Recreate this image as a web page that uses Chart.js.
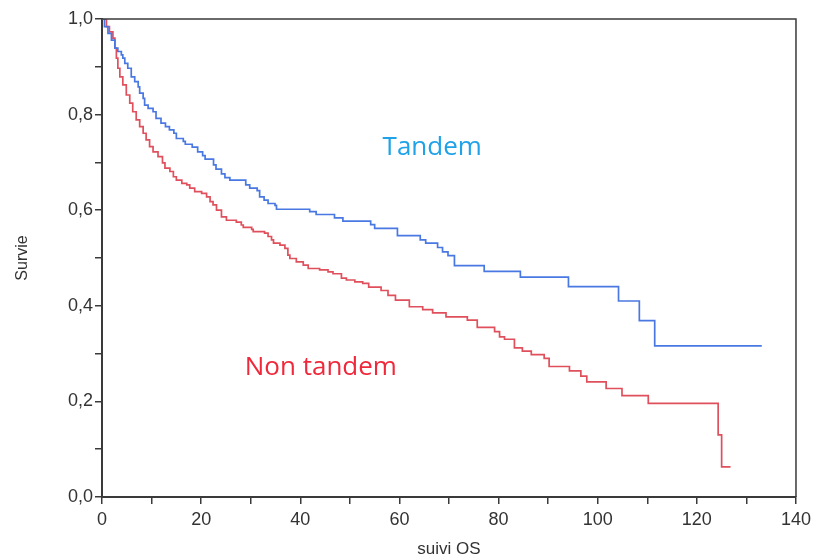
<!DOCTYPE html>
<html>
<head>
<meta charset="utf-8">
<script src="https://cdn.jsdelivr.net/npm/chart.js@4/dist/chart.umd.min.js"></script>
<style>
  html, body { margin: 0; padding: 0; background: #fff; }
  #wrap { width: 816px; height: 557px; }
</style>
</head>
<body>
<div id="wrap"><canvas id="kmChart"></canvas></div>
<script>
// survival curves (time in months, survival after each drop)
const tandemTimes = [0, 0.5, 1.2, 1.9, 2.6, 3.2, 3.9, 4.2, 4.6, 5.2, 5.9, 6.6, 7.3, 7.6, 8.3, 8.6, 9.3,
  10.3, 10.9, 11.9, 12.8, 13.6, 14.5, 15.0, 16.4, 16.8, 18.2, 19.3, 20.3, 20.8, 22.5, 23.0, 24.1,
  24.8, 25.8, 29.0, 29.8, 31.3, 31.8, 32.7, 33.5, 34.9, 35.2, 41.9, 43.2, 46.9, 48.6, 54.2, 55.0,
  59.6, 64.2, 65.3, 67.7, 68.7, 69.8, 71.1, 77.1, 84.4, 94.1, 104.2, 108.4, 111.5, 133.1];
const tandemSurv = [1.0, 0.984, 0.970, 0.956, 0.939, 0.932, 0.925, 0.918, 0.907, 0.897, 0.879, 0.869, 0.858, 0.845, 0.834, 0.820, 0.813,
  0.806, 0.792, 0.782, 0.775, 0.768, 0.761, 0.750, 0.744, 0.738, 0.732, 0.722, 0.714, 0.707, 0.695, 0.686, 0.676,
  0.668, 0.663, 0.653, 0.646, 0.641, 0.628, 0.621, 0.614, 0.610, 0.602, 0.597, 0.591, 0.584, 0.577, 0.570, 0.562,
  0.547, 0.538, 0.531, 0.522, 0.513, 0.505, 0.484, 0.472, 0.460, 0.440, 0.410, 0.369, 0.316, 0.316];

const nonTandemTimes = [0, 0.9, 1.5, 2.2, 2.6, 2.9, 3.2, 3.6, 4.2, 4.9, 5.6, 6.2, 6.9, 7.6, 8.3, 8.9, 9.6,
  10.3, 11.3, 12.2, 12.7, 13.7, 14.4, 15.0, 16.1, 17.1, 17.7, 18.7, 20.1, 21.1, 21.8, 22.4, 23.1,
  24.1, 25.1, 27.1, 28.1, 28.5, 30.2, 30.5, 32.8, 33.5, 34.2, 34.6, 35.9, 36.9, 37.5, 37.9, 39.2,
  40.6, 41.6, 43.9, 45.6, 46.6, 48.3, 49.3, 51.0, 52.6, 53.8, 56.3, 57.7, 59.2, 62.0, 64.7, 66.7,
  69.4, 73.7, 75.7, 79.2, 80.2, 81.2, 83.2, 84.8, 86.6, 89.2, 90.2, 94.3, 96.6, 97.8, 101.7, 104.9,
  110.2, 124.3, 125.0, 126.8];
const nonTandemSurv = [1.0, 0.984, 0.973, 0.960, 0.939, 0.918, 0.897, 0.879, 0.862, 0.841, 0.824, 0.806, 0.789, 0.775, 0.761, 0.747, 0.733,
  0.722, 0.712, 0.699, 0.688, 0.681, 0.670, 0.663, 0.656, 0.653, 0.646, 0.639, 0.635, 0.628, 0.618, 0.611, 0.600,
  0.586, 0.579, 0.575, 0.569, 0.564, 0.560, 0.555, 0.552, 0.545, 0.538, 0.531, 0.527, 0.520, 0.506, 0.499, 0.492,
  0.485, 0.478, 0.475, 0.471, 0.467, 0.458, 0.454, 0.450, 0.447, 0.439, 0.432, 0.422, 0.412, 0.398, 0.392, 0.385,
  0.377, 0.370, 0.355, 0.346, 0.335, 0.330, 0.312, 0.305, 0.298, 0.290, 0.273, 0.264, 0.253, 0.241, 0.227, 0.212,
  0.196, 0.130, 0.063, 0.063];

const seriesNames = ['Tandem', 'Non tandem'];
const xLabel = 'suivi OS';
const yLabel = 'Survie';

function toPoints(times, surv) {
  return times.map((t, i) => ({ x: t, y: surv[i] }));
}

// draws the box around the plot and the two curve labels
const framePlugin = {
  id: 'frame',
  afterDraw(chart) {
    const { ctx, chartArea: a, scales } = chart;
    ctx.save();
    ctx.strokeStyle = '#3a3a3a';
    ctx.lineWidth = 1.5;
    ctx.beginPath();
    ctx.moveTo(a.left, a.top);
    ctx.lineTo(a.right, a.top);
    ctx.lineTo(a.right, a.bottom);
    ctx.stroke();

    ctx.font = '26px "Open Sans", "Noto Sans", sans-serif';
    ctx.textBaseline = 'middle';
    ctx.textAlign = 'left';
    ctx.fillStyle = '#1fa2e8';
    ctx.fillText(seriesNames[0], scales.x.getPixelForValue(56.6), scales.y.getPixelForValue(0.730));
    ctx.fillStyle = '#f0283c';
    ctx.fillText(seriesNames[1], scales.x.getPixelForValue(28.8), scales.y.getPixelForValue(0.270));
    ctx.restore();
  }
};

const ctx = document.getElementById('kmChart').getContext('2d');
new Chart(ctx, {
  type: 'line',
  data: {
    datasets: [{
      label: seriesNames[0],
      data: toPoints(tandemTimes, tandemSurv),
      borderColor: '#4a78e2',
      borderWidth: 1.7,
      pointRadius: 0,
      stepped: true
    }, {
      label: seriesNames[1],
      data: toPoints(nonTandemTimes, nonTandemSurv),
      borderColor: '#e0505c',
      borderWidth: 1.7,
      pointRadius: 0,
      stepped: true
    }]
  },
  options: {
    responsive: true,
    maintainAspectRatio: false,
    animation: false,
    layout: { padding: { top: 19, right: 19, left: 0, bottom: 0 } },
    plugins: { legend: { display: false }, tooltip: { enabled: false } },
    scales: {
      x: {
        type: 'linear',
        min: 0, max: 140,
        afterFit: s => { s.height = 60; },
        ticks: {
          stepSize: 10,
          autoSkip: false,
          maxRotation: 0,
          color: '#333',
          font: { family: 'Liberation Sans, Arial, sans-serif', size: 18 },
          padding: 5,
          callback: v => (v % 20 === 0 ? String(v) : '')
        },
        grid: { drawOnChartArea: false, drawTicks: true, tickLength: 7, color: '#3a3a3a', lineWidth: 1.5 },
        border: { display: true, color: '#3a3a3a', width: 2 },
        title: {
          display: true, text: xLabel, color: '#333',
          font: { family: 'Liberation Sans, Arial, sans-serif', size: 17 },
          padding: { top: 0, bottom: -3 }
        }
      },
      y: {
        min: 0, max: 1,
        afterFit: s => { s.width = 102; },
        ticks: {
          stepSize: 0.1,
          autoSkip: false,
          color: '#333',
          font: { family: 'Liberation Sans, Arial, sans-serif', size: 18 },
          padding: 2,
          callback: v => {
            const k = Math.round(v * 10);
            return k % 2 === 0 ? (k / 10).toFixed(1).replace('.', ',') : '';
          }
        },
        grid: { drawOnChartArea: false, drawTicks: true, tickLength: 7, color: '#3a3a3a', lineWidth: 1.5 },
        border: { display: true, color: '#3a3a3a', width: 2 },
        title: {
          display: true, text: yLabel, color: '#333',
          font: { family: 'Liberation Sans, Arial, sans-serif', size: 16 },
          padding: { top: 13, bottom: 0 }
        }
      }
    }
  },
  plugins: [framePlugin]
});
</script>
</body>
</html>
